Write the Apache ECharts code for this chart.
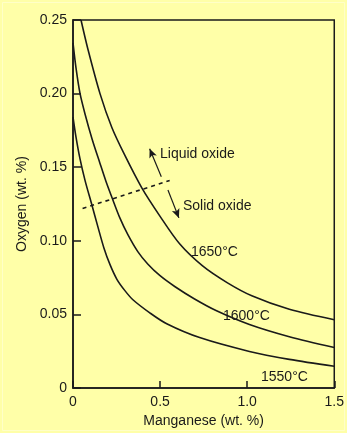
<!DOCTYPE html>
<html><head><meta charset="utf-8">
<script src="https://cdn.jsdelivr.net/npm/echarts@6/dist/echarts.min.js"></script>
<style>html,body{margin:0;padding:0;background:#FFFFA8;}#c{width:347px;height:433px;}</style>
</head><body><div id="c"></div>
<script>
// Data (x: Mn wt.%, y: O wt.%)
const curve1650 = [[0.046,0.250],[0.086,0.230],[0.155,0.200],[0.223,0.177],[0.298,0.158],[0.395,0.136],[0.498,0.117],[0.612,0.098],[0.744,0.083],[0.887,0.0715],[1.030,0.0625],[1.242,0.0535],[1.500,0.0464]];
const curve1600 = [[0,0.2345],[0.017,0.2177],[0.040,0.2003],[0.069,0.1862],[0.109,0.1694],[0.155,0.1526],[0.189,0.1405],[0.227,0.1284],[0.269,0.1156],[0.315,0.1042],[0.372,0.0927],[0.429,0.0843],[0.498,0.0765],[0.584,0.069],[0.698,0.0605],[0.824,0.0525],[1.013,0.0432],[1.242,0.0349],[1.500,0.0276]];
const curve1550 = [[0,0.1841],[0.017,0.1707],[0.040,0.1559],[0.069,0.1411],[0.107,0.125],[0.143,0.1095],[0.177,0.0954],[0.212,0.084],[0.252,0.0739],[0.298,0.0662],[0.344,0.0600],[0.441,0.0511],[0.538,0.0437],[0.727,0.0343],[1.013,0.0249],[1.242,0.0195],[1.500,0.0148]];
const boundary = [[0.055,0.122],[0.555,0.141]];
const arrowUp = [[0.507,0.1436],[0.44,0.1626]];
const arrowDown = [[0.545,0.1346],[0.608,0.1156]];
const xTicks = [0, 0.5, 1.0, 1.5];
const yTicks = [0, 0.05, 0.10, 0.15, 0.20, 0.25];
const curveLabels = ['1650°C','1600°C','1550°C'];
const regionLabels = ['Liquid oxide','Solid oxide'];

const FONT = '"Liberation Sans", Arial, sans-serif';
const INK = '#1a1a1a';
const chart = echarts.init(document.getElementById('c'), null, {renderer:'canvas'});
const lineStyle = {color: INK, width: 1.6};
function curve(d){ return {type:'line', data:d, smooth:0.3, symbol:'none', lineStyle:lineStyle, silent:true}; }
chart.setOption({
  backgroundColor: '#FFFFA8',
  animation: false,
  grid: {left:73, right:12, top:20, bottom:41, show:true, borderColor:INK, borderWidth:1.5, backgroundColor:'transparent'},
  xAxis: {type:'value', min:0, max:1.5, interval:0.5,
    name:'Manganese (wt. %)', nameLocation:'middle', nameGap:20,
    nameTextStyle:{fontFamily:FONT, fontSize:14, color:INK},
    axisLine:{show:true, lineStyle:{color:INK, width:1.5}},
    axisTick:{show:true, inside:true, length:7, lineStyle:{color:INK, width:1.5}},
    axisLabel:{fontFamily:FONT, fontSize:14, color:INK, margin:7,
      formatter: v => { const t = xTicks.find(a => Math.abs(a-v)<1e-9); return t===0 ? '0' : t.toFixed(1); }},
    splitLine:{show:false}},
  yAxis: {type:'value', min:0, max:0.25, interval:0.05,
    name:'Oxygen (wt. %)', nameLocation:'middle', nameGap:37,
    nameTextStyle:{fontFamily:FONT, fontSize:14, color:INK},
    axisLine:{show:true, lineStyle:{color:INK, width:1.5}},
    axisTick:{show:true, inside:true, length:8, lineStyle:{color:INK, width:1.5}},
    axisLabel:{fontFamily:FONT, fontSize:14, color:INK, margin:6,
      formatter: v => { const t = yTicks.find(a => Math.abs(a-v)<1e-9); return t===0 ? '0' : t.toFixed(2); }},
    splitLine:{show:false}},
  series: [
    curve(curve1650), curve(curve1600), curve(curve1550),
    {type:'line', data:boundary, symbol:'none', silent:true,
      lineStyle:{color:INK, width:1.6, type:[4,4]}},
    {type:'line', data:[], silent:true,
      markLine:{silent:true, symbol:['none','arrow'], symbolSize:[6,9], label:{show:false},
        lineStyle:{color:INK, width:1.2, type:'solid'},
        data:[[{coord:arrowUp[0]},{coord:arrowUp[1]}],[{coord:arrowDown[0]},{coord:arrowDown[1]}]]}}
  ],
  graphic: [
    {type:'rect', shape:{x:2.5,y:2.5,width:342,height:428}, style:{fill:'none', stroke:'#FFFFC8', lineWidth:1}, silent:true},
    {type:'text', left:160, top:147, style:{text:regionLabels[0], font:'14px '+FONT, fill:INK}},
    {type:'text', left:183, top:199, style:{text:regionLabels[1], font:'14px '+FONT, fill:INK}},
    {type:'text', left:191, top:245, style:{text:curveLabels[0], font:'14px '+FONT, fill:INK}},
    {type:'text', left:223, top:309, style:{text:curveLabels[1], font:'14px '+FONT, fill:INK}},
    {type:'text', left:261, top:370, style:{text:curveLabels[2], font:'14px '+FONT, fill:INK}}
  ]
});
</script></body></html>
